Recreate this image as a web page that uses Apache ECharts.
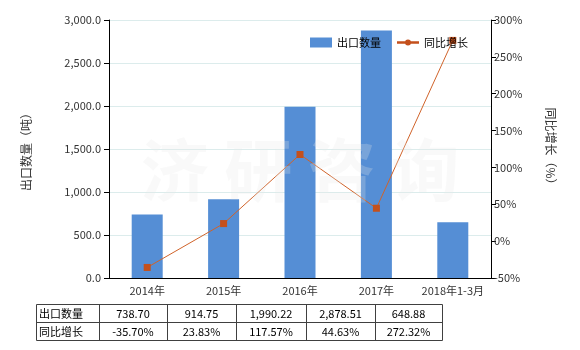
<!DOCTYPE html>
<html><head><meta charset="utf-8">
<script src="https://cdn.jsdelivr.net/npm/echarts@6/dist/echarts.min.js"></script>
<style>html,body{margin:0;padding:0;background:#fff}#c{width:580px;height:350px}</style>
</head><body><div id="c"></div>
<script>
var categories = ['2014年','2015年','2016年','2017年','2018年1-3月'];
var exportQty = [738.70, 914.75, 1990.22, 2878.51, 648.88];
var growth = [-35.70, 23.83, 117.57, 44.63, 272.32];
var seriesNames = ['出口数量','同比增长'];
var leftTicks = {min:0, max:3000, interval:500};
var rightTicks = {min:-50, max:300, interval:50};

var FONT = '"Noto Sans CJK SC", sans-serif';
function fmtNum(v){return v.toLocaleString('en-US',{minimumFractionDigits:2,maximumFractionDigits:2});}
function fmtPct(v){return v.toFixed(2)+'%';}

// table graphics
var colX = [36, 99, 167, 236, 306, 375, 442];
var rowY = [304, 322, 340];
var g = [];
var lineStyle = {stroke:'#404040', lineWidth:1};
for (var i=0;i<colX.length;i++) g.push({type:'line', shape:{x1:colX[i]+0.5,y1:rowY[0]+0.5,x2:colX[i]+0.5,y2:rowY[2]+0.5}, style:lineStyle});
for (var j=0;j<rowY.length;j++) g.push({type:'line', shape:{x1:colX[0]+0.5,y1:rowY[j]+0.5,x2:colX[colX.length-1]+0.5,y2:rowY[j]+0.5}, style:lineStyle});
var rows = [[seriesNames[0]].concat(exportQty.map(fmtNum)), [seriesNames[1]].concat(growth.map(fmtPct))];
rows.forEach(function(r, ri){
  var cy = (rowY[ri]+rowY[ri+1])/2+0.5;
  r.forEach(function(t, ci){
    if (ci===0) g.push({type:'text', x:colX[0]+3, y:cy, style:{text:t, font:'11px '+FONT, fill:'#000', textVerticalAlign:'middle', verticalAlign:'middle'}});
    else g.push({type:'text', x:(colX[ci]+colX[ci+1])/2, y:cy, style:{text:t, font:'11px '+FONT, fill:'#000', textAlign:'center', align:'center', textVerticalAlign:'middle', verticalAlign:'middle'}});
  });
});
// watermark
g.push({type:'text', x:300, y:170, z:100, style:{text:'济 研 咨 询', font:'bold 68px '+FONT, fill:'rgba(230,230,230,0.25)', textAlign:'center', align:'center', textVerticalAlign:'middle', verticalAlign:'middle'}});

var lineLegendIcon = 'path://M0,0 L0.1,0 L0,0.1 Z M0,10 L0.1,10 L0,9.9 Z M0,3.8 L8.5,3.8 L8.5,6.2 L0,6.2 Z M13.5,3.8 L22,3.8 L22,6.2 L13.5,6.2 Z M8,5 A3,3 0 1,1 14,5 A3,3 0 1,1 8,5 Z';

var chart = echarts.init(document.getElementById('c'), null, {renderer:'canvas'});
chart.setOption({
  animation:false,
  textStyle:{fontFamily:FONT},
  grid:{left:109, right:89, top:20, bottom:72},
  legend:{left:305, top:32, itemWidth:22, itemHeight:10, itemGap:16,
    textStyle:{fontSize:11, color:'#000', fontFamily:FONT},
    data:[{name:seriesNames[0], icon:'rect'}, {name:seriesNames[1], icon:lineLegendIcon}]},
  xAxis:{type:'category', data:categories,
    axisLine:{lineStyle:{color:'#000'}},
    axisTick:{alignWithLabel:true, lineStyle:{color:'#000'}},
    axisLabel:{fontSize:11, color:'#333', margin:7, interval:0}},
  yAxis:[
    {type:'value', min:leftTicks.min, max:leftTicks.max, interval:leftTicks.interval, position:'left',
     name:'出口数量（吨）', nameLocation:'middle', nameGap:77, nameRotate:90,
     nameTextStyle:{fontSize:12, color:'#333'},
     axisLine:{show:true, lineStyle:{color:'#000'}}, axisTick:{show:true, lineStyle:{color:'#000'}},
     axisLabel:{fontSize:11, color:'#333', formatter:function(v){return v.toLocaleString('en-US',{minimumFractionDigits:1,maximumFractionDigits:1});}},
     splitLine:{lineStyle:{color:'#dcecec'}}},
    {type:'value', min:rightTicks.min, max:rightTicks.max, interval:rightTicks.interval, position:'right',
     name:'同比增长（%）', nameLocation:'middle', nameGap:54, nameRotate:-90,
     nameTextStyle:{fontSize:12, color:'#333'},
     axisLine:{show:true, lineStyle:{color:'#000'}}, axisTick:{show:true, lineStyle:{color:'#000'}},
     axisLabel:{fontSize:11, color:'#333', margin:3, formatter:'{value}%'},
     splitLine:{show:false}}
  ],
  series:[
    {name:seriesNames[0], type:'bar', data:exportQty, barWidth:31, itemStyle:{color:'#558ed5'}},
    {name:seriesNames[1], type:'line', yAxisIndex:1, data:growth, symbol:'rect', symbolSize:7,
     lineStyle:{color:'#d0632a', width:1}, itemStyle:{color:'#c4501c'}}
  ],
  graphic:g
});
</script></body></html>
